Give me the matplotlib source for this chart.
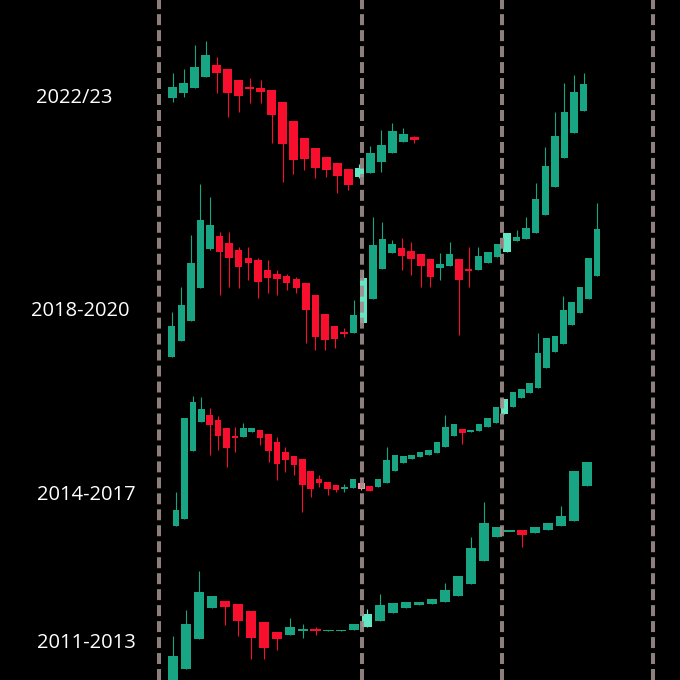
import matplotlib
matplotlib.use("Agg")
import matplotlib.pyplot as plt

# ---------------- data (screen-depth levels: smaller = higher price) ----------------
labels = ["2022/23", "2018-2020", "2014-2017", "2011-2013"]

o_2022 = [98.3, 93.3, 87.7, 76.7, 65.3, 68.7, 80.3, 87.3, 88, 90, 101.7, 120.7, 138.3, 147.7, 157.3, 163.3, 169.3, 176.7, 172.7, 162.3, 153.3, 141.7, 137.3]
c_2022 = [87.3, 83.3, 66.7, 55.3, 72.7, 93.3, 96, 89, 92.3, 115.3, 144.3, 160, 159, 168.3, 170, 175.7, 185, 168.3, 153.3, 145.3, 131, 133.7, 140]
h_2022 = [72.7, 69.3, 45, 40.7, 56.7, 68.7, 80, 78.3, 80, 90, 101.7, 120.7, 138.3, 147.7, 157.3, 163.3, 169.3, 164, 146, 130, 123.3, 127.7, 136]
l_2022 = [101.7, 96.7, 88.3, 76.7, 93.3, 116.7, 111.7, 103.3, 103.3, 143.3, 181.7, 174, 170, 178.3, 176.7, 193.3, 190, 178, 173, 171.7, 153.3, 141.7, 143.3]

o_2018 = [357, 340.7, 321, 288.3, 248.7, 235.7, 242.7, 250, 258, 260.3, 269.7, 273.7, 275.7, 279, 283, 295.3, 314.3, 325.7, 332, 332.7, 323.3, 299, 268.7, 253, 247.7, 251, 254.3, 259.3, 268, 266, 259.3, 269, 270.3, 263.3, 257.3, 251.7, 241.3, 239.3, 233.3, 215, 187.3, 158.3, 132.7, 110.7]
c_2018 = [325.7, 305, 263.3, 220.3, 225.3, 251.7, 257.7, 266.7, 263, 282.3, 277.7, 279, 282.7, 288.3, 310, 337.3, 340, 339.3, 334, 315, 278.3, 245, 239.3, 243.7, 255.7, 258.7, 265.7, 277, 264.3, 254, 279.7, 271, 256, 252, 244, 233.3, 237.3, 228.3, 199.3, 166, 135.7, 112.3, 92, 84.3]
h_2018 = [311.7, 286.7, 235, 184, 196.7, 231.7, 231.7, 246.7, 246.7, 258, 260, 270, 274, 276.7, 283, 295.3, 314.3, 325.7, 328.3, 300, 270, 216.7, 221.7, 240, 238.3, 241.7, 254.3, 259.3, 253, 241.7, 259.3, 246.7, 246.7, 252, 244, 233.3, 230, 216.7, 183.3, 146.7, 111.7, 83.3, 75, 72.7]
l_2018 = [357, 340.7, 321, 288.3, 250, 295, 286.7, 288.3, 280, 298.3, 293.3, 295, 290, 293.3, 343.3, 350, 350, 348.3, 336.7, 332.7, 323.3, 299, 268.7, 253, 270, 275, 286.7, 286.7, 280, 266, 335, 286.7, 270.3, 263.3, 257.3, 251.7, 241.3, 239.3, 233.3, 215, 187.3, 158.3, 132.7, 110.7]

o_2014 = [525.7, 519, 451, 422, 415, 419.7, 427.7, 436, 437, 432.3, 430, 434, 441.7, 452, 455.7, 459.3, 471, 479.3, 482, 485, 487.8, 487.7, 483.3, 485.7, 487, 483.3, 471, 462.7, 459, 456.7, 455, 452.7, 447.3, 436, 429.3, 431.7, 431, 426.7, 422.7, 414.3, 406.7, 398.3, 393.3, 388.3, 368.3, 351.7, 344, 325, 312.7, 299, 276]
c_2014 = [510, 417.7, 402.3, 409.3, 425, 436, 448.3, 437.3, 427.7, 428.3, 437.7, 450.7, 463.7, 460, 465, 485, 489.3, 483.3, 489.3, 490, 487, 479.3, 489.3, 490.7, 479.3, 460, 455, 456, 455, 452.3, 450, 441.7, 426.7, 424, 432.7, 430, 424.3, 417.7, 406.7, 399.3, 391.7, 389.3, 383.3, 353.3, 337.5, 336, 310.3, 302, 287, 258.3, 228.7]
h_2014 = [491.7, 417.7, 396, 396.7, 408.3, 416, 427.7, 426.7, 423, 428.3, 430, 434, 436.7, 446.7, 455.7, 459.3, 471, 475, 482, 485, 484, 479.3, 483.3, 485.7, 479.3, 446.7, 455, 456, 455, 452.3, 450, 441.7, 415, 424, 429.3, 430, 424.3, 417.7, 406.7, 399.3, 391.7, 389.3, 383.3, 332.5, 337.5, 336, 296, 302, 287, 258.3, 203.3]
l_2014 = [525.7, 519, 451, 422, 455, 450, 466.7, 451.7, 437, 432.3, 445, 461.7, 480, 471.7, 475, 511.7, 496.7, 486.7, 495, 491.7, 491.7, 487.7, 490, 490.7, 487, 483.3, 471, 462.7, 459, 456.7, 455, 452.7, 447.3, 436, 444, 431.7, 431, 426.7, 422.7, 414.3, 406.7, 398.3, 393.3, 388.3, 368.3, 351.7, 344, 325, 312.7, 299, 276]

o_2011 = [690, 669.3, 639, 607.7, 601, 603.7, 611, 621.7, 631.7, 635, 631, 629.3, 630.7, 630.7, 630, 626.7, 620.7, 612.7, 607.7, 605.3, 604, 601.7, 595.7, 584.3, 561, 537.3, 531.3, 530, 533.3, 530, 526, 520.7, 486]
c_2011 = [656, 624, 592.3, 596, 607, 621, 637.7, 647.7, 639, 627, 629, 631.3, 629.7, 629.7, 624.3, 614.3, 605, 603.3, 602.3, 602.3, 598.7, 590, 576, 547.7, 523.3, 527.3, 530.3, 535.3, 526.7, 522.7, 515.7, 470.7, 462.3]
h_2011 = [636, 610, 570.7, 596, 601, 603.7, 611, 621.7, 631.7, 618.3, 624, 626.7, 629.7, 629.7, 624.3, 609.3, 594, 603.3, 602.3, 602.3, 598.7, 583.3, 576, 536.7, 501.7, 527.3, 530.3, 530, 526.7, 522.7, 506, 470.7, 462.3]
l_2011 = [690, 669.3, 639, 607.7, 625, 636, 659.3, 659.3, 650, 635, 638.3, 635, 630.7, 630.7, 630, 626.7, 620.7, 612.7, 607.7, 605.3, 604, 601.7, 595.7, 584.3, 561, 537.3, 531.3, 547.3, 533.3, 530, 526, 520.7, 486]

# ---------------- layout / style ----------------
GREEN = "#17a583"
RED = "#f80f2e"
LIGHT_G = "#63e6c3"
LIGHT_R = "#ff97a8"
LINE_C = "#a08e8b"

series = [
    # (O, H, L, C, start x, step, highlighted candle indices, label pos)
    (o_2022, h_2022, l_2022, c_2022, 172.7, 10.98, [17], (74, 98)),
    (o_2018, h_2018, l_2018, c_2018, 171.7, 9.58, [20, 35], (80, 311)),
    (o_2014, h_2014, l_2014, c_2014, 176.0, 8.42, [22, 39], (86, 495)),
    (o_2011, h_2011, l_2011, c_2011, 173.3, 12.93, [15], (86, 643)),
]
vlines_x = [159.3, 361.5, 502.0, 653.0]

fig = plt.figure(figsize=(6.8, 6.8), dpi=100, facecolor="black")
ax = fig.add_axes([0, 0, 1, 1])
ax.set_facecolor("black")
ax.set_xlim(0, 680)
ax.set_ylim(680, 0)
ax.axis("off")

for (O, H, L, C, x0, dx, hl, lpos), lab in zip(series, labels):
    n = len(O)
    xs = [x0 + dx * i for i in range(n)]
    for i in range(n):
        up = C[i] <= O[i]
        if i in hl:
            col = LIGHT_G if up else LIGHT_R
        else:
            col = GREEN if up else RED
        top = min(O[i], C[i])
        hgt = max(abs(O[i] - C[i]), 1.6)
        ax.vlines(xs[i], H[i], L[i], color=col, linewidth=0.8, zorder=2)
        ax.bar(xs[i], hgt, bottom=top, width=dx * 0.78, color=col,
               edgecolor="none", zorder=3)
    ax.text(lpos[0], lpos[1], lab, color="white", fontsize=14.5,
            family="Open Sans", ha="center", va="center")

lw_pt = 2.9
for xv in vlines_x:
    ax.axvline(xv, color=LINE_C, linewidth=lw_pt, alpha=0.9,
               linestyle=(0, (7.9 / lw_pt, 3.6 / lw_pt)), zorder=4)

fig.savefig("out.png", dpi=100, facecolor="black")
